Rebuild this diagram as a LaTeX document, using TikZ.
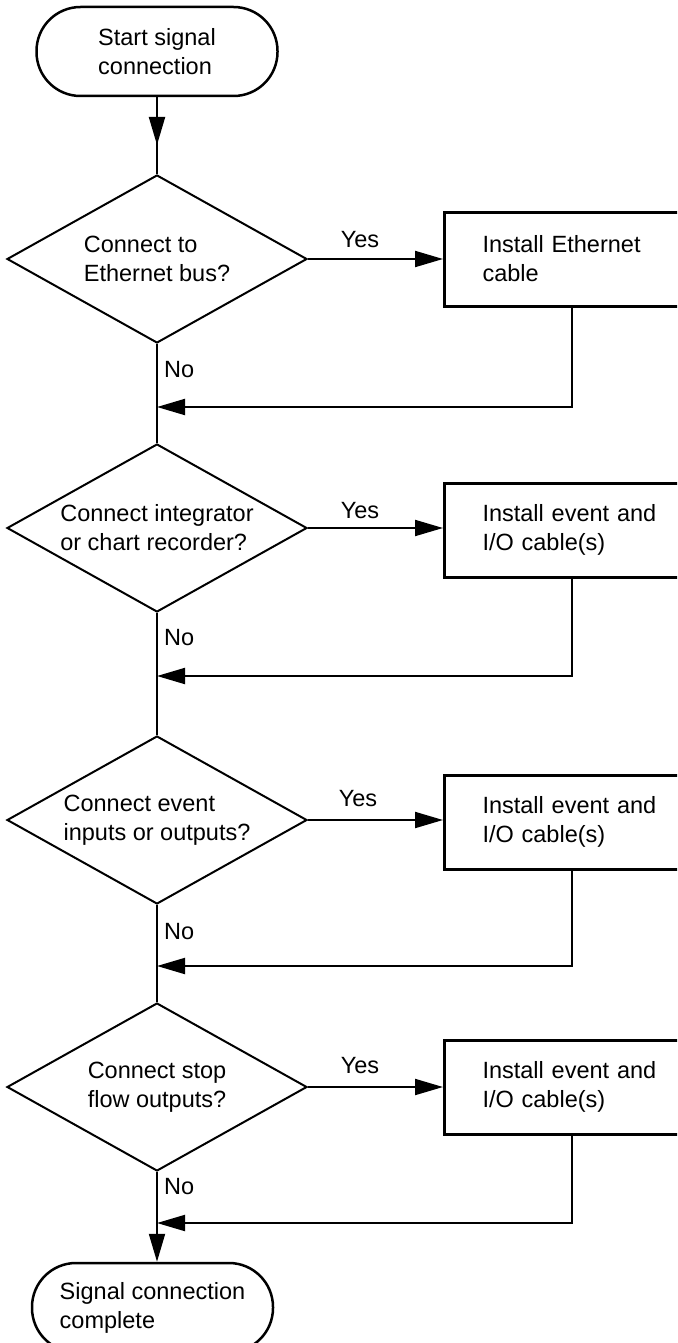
\documentclass[tikz,border=0pt]{standalone}
\usepackage{fontspec}
\setmainfont{Liberation Sans}
\usetikzlibrary{arrows.meta, shapes.geometric}

\begin{document}
\begin{tikzpicture}[x=1pt, y=-1pt,
    every node/.style={font=\fontsize{23.5}{29}\selectfont},
    term/.style={draw, line width=2.5pt, rounded corners=44pt, minimum width=241pt, minimum height=89pt, align=left, inner sep=0pt},
    decision/.style={draw, diamond, aspect=1.786, line width=2pt, minimum width=300pt, minimum height=168pt, align=left, inner sep=0pt},
    procbox/.style={draw, line width=3pt, minimum width=254pt, minimum height=94pt, text width=178pt, inner xsep=38pt, align=left, anchor=west},
    lbl/.style={inner sep=0pt},
    flow/.style={line width=2pt},
    arr/.style={flow, -{Triangle[length=28pt, width=16pt]}}]
    \useasboundingbox (0,0) rectangle (677,1343);
    \clip (0,0) rectangle (677,1343);

    % Start
    \node[term] (start) at (157,51.5) {Start signal\\connection};

    % Decisions
    \node[decision] (d1) at (157,259) {Connect to\\Ethernet bus?};
    \node[decision] (d2) at (157,528) {Connect integrator\\or chart recorder?};
    \node[decision] (d3) at (157,820) {Connect event\\inputs or outputs?};
    \node[decision] (d4) at (157,1087) {Connect stop\\flow outputs?};

    % Install steps
    \node[procbox] (b1) at (443,259) {Install Ethernet\\cable};
    \node[procbox] (b2) at (443,530) {Install event and\\I/O cable(s)};
    \node[procbox] (b3) at (443,822) {Install event and\\I/O cable(s)};
    \node[procbox] (b4) at (443,1087) {Install event and\\I/O cable(s)};

    % End
    \node[term] (stop) at (152.5,1307.5) {Signal connection\\complete};

    % Points on the main line
    \coordinate (a0) at (157,145);
    \coordinate (j1) at (157,407);
    \coordinate (j2) at (157,676);
    \coordinate (j3) at (157,966);
    \coordinate (j4) at (157,1223);

    % Main line
    \draw[flow] (start) -- (d1);
    \draw[arr] (start) -- (a0);
    \draw[flow] (d1) -- (d2);
    \draw[flow] (d2) -- (d3);
    \draw[flow] (d3) -- (d4);
    \draw[arr] (d4) -- (d4 |- stop.north);

    % Yes branches
    \draw[arr] (d1.east) -- (d1.east -| b1.west);
    \draw[arr] (d2.east) -- (d2.east -| b2.west);
    \draw[arr] (d3.east) -- (d3.east -| b3.west);
    \draw[arr] (d4.east) -- (d4.east -| b4.west);
    \node[lbl] (y1) at (360,240) {Yes};
    \node[lbl] (y2) at (360,511) {Yes};
    \node[lbl] (y3) at (358,799) {Yes};
    \node[lbl] (y4) at (360,1066) {Yes};

    % Back to the main line
    \draw[arr] (b1.south) |- (j1);
    \draw[arr] (b2.south) |- (j2);
    \draw[arr] (b3.south) |- (j3);
    \draw[arr] (b4.south) |- (j4);
    \node[lbl, anchor=west] (n1) at (164,370) {No};
    \node[lbl, anchor=west] (n2) at (164,638) {No};
    \node[lbl, anchor=west] (n3) at (164,932) {No};
    \node[lbl, anchor=west] (n4) at (164,1187) {No};
\end{tikzpicture}
\end{document}
